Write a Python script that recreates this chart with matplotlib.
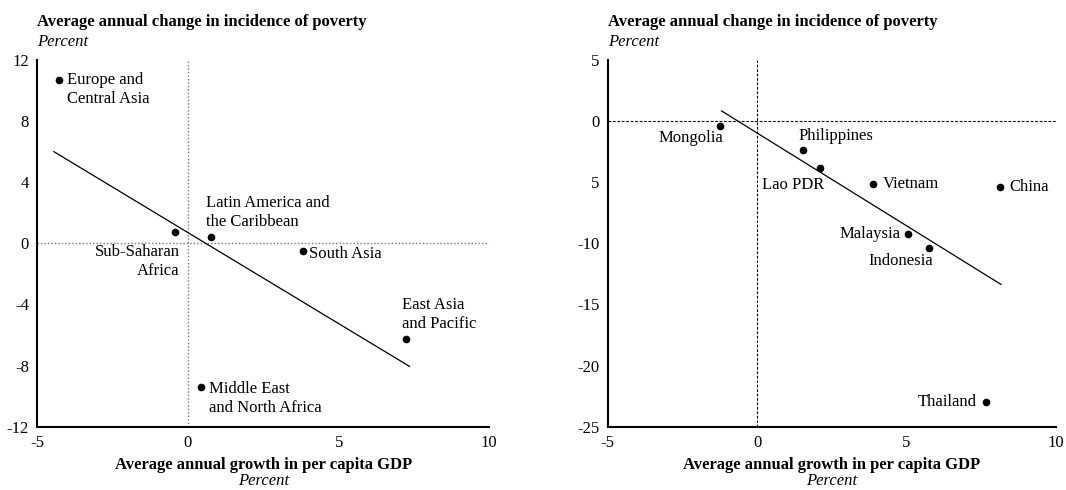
import matplotlib
matplotlib.use("Agg")
import matplotlib.pyplot as plt

plt.rcParams["font.family"] = ["Liberation Serif", "DejaVu Serif"]

# Regions: growth in per capita GDP vs change in poverty incidence
region_names = ["Europe and\nCentral Asia", "Sub-Saharan\nAfrica", "Latin America and\nthe Caribbean",
                "South Asia", "East Asia\nand Pacific", "Middle East\nand North Africa"]
region_growth = [-4.27, -0.44, 0.76, 3.81, 7.24, 0.42]
region_poverty = [10.69, 0.72, 0.44, -0.48, -6.24, -9.40]
region_fit_x = [-4.45, 7.35]
region_fit_y = [6.0, -8.05]

# East Asian countries
country_names = ["Mongolia", "Philippines", "Lao PDR", "Vietnam", "China",
                 "Malaysia", "Indonesia", "Thailand"]
country_growth = [-1.24, 1.52, 2.11, 3.89, 8.14, 5.06, 5.75, 7.66]
country_poverty = [-0.37, -2.36, -3.84, -5.12, -5.39, -9.21, -10.36, -23.01]
country_fit_x = [-1.19, 8.16]
country_fit_y = [0.83, -13.36]

left_yticks = [12, 8, 4, 0, -4, -8, -12]
left_yticklabels = ["12", "8", "4", "0", "-4", "-8", "-12"]
right_yticks = [5, 0, -5, -10, -15, -20, -25]
right_yticklabels = ["5", "0", "5", "-10", "-15", "-20", "-25"]
xticks = [-5, 0, 5, 10]
xticklabels = ["-5", "0", "5", "10"]

y_title = "Average annual change in incidence of poverty"
x_title = "Average annual growth in per capita GDP"

# label placement: (dx, dy) in pixels from the dot, horizontal alignment
region_label_pos = [(8, -10, "left"), (5, -29, "right"), (-5, 24, "left"),
                    (6.5, -3, "left"), (-4.5, 24.5, "left"), (8, -11.5, "left")]
country_label_pos = [(3.5, -12.5, "right"), (-4.5, 13.5, "left"), (4.5, -17, "right"),
                     (9.5, -0.5, "left"), (8.5, 0, "left"), (-7.5, 0, "right"),
                     (4.5, -13.5, "right"), (-9.5, 0, "right")]

PX = 0.72  # points per pixel at dpi 100
FS = 12

fig = plt.figure(figsize=(10.66, 4.9), dpi=100)
ax1 = fig.add_axes([0.035, 0.1292, 0.424, 0.7484])
ax2 = fig.add_axes([0.5701, 0.1292, 0.4205, 0.7484])


def draw_panel(ax, xs, ys, names, pos, fit_x, fit_y, ylim, yt, ytl, ref_style):
    ax.set_xlim(-5, 10)
    ax.set_ylim(*ylim)
    ax.axvline(0, **ref_style, zorder=1)
    ax.axhline(0, **ref_style, zorder=1)
    ax.plot(fit_x, fit_y, color="black", lw=0.9, zorder=2)
    ax.plot(xs, ys, "o", color="black", ms=4.5, zorder=3, clip_on=False)
    for x, y, name, (dx, dy, ha) in zip(xs, ys, names, pos):
        ax.annotate(name, (x, y), xytext=(dx * PX, dy * PX), textcoords="offset points",
                    ha=ha, va="center", multialignment=ha, fontsize=FS, linespacing=1.25)
    ax.set_xticks(xticks)
    ax.set_xticklabels(xticklabels)
    ax.set_yticks(yt)
    ax.set_yticklabels(ytl)
    ax.tick_params(length=0, labelsize=FS, pad=6)
    for s in ["top", "right"]:
        ax.spines[s].set_visible(False)
    for s in ["left", "bottom"]:
        ax.spines[s].set_linewidth(1.5)
    ax.annotate(y_title, (0, 1), xycoords="axes fraction", xytext=(0, 38 * PX),
                textcoords="offset points", ha="left", va="center",
                fontsize=FS, fontweight="bold")
    ax.annotate("Percent", (0, 1), xycoords="axes fraction", xytext=(0, 18 * PX),
                textcoords="offset points", ha="left", va="center",
                fontsize=FS, fontstyle="italic")
    ax.annotate(x_title, (0.5, 0), xycoords="axes fraction", xytext=(0, -38 * PX),
                textcoords="offset points", ha="center", va="center",
                fontsize=FS, fontweight="bold")
    ax.annotate("Percent", (0.5, 0), xycoords="axes fraction", xytext=(0, -54 * PX),
                textcoords="offset points", ha="center", va="center",
                fontsize=FS, fontstyle="italic", annotation_clip=False)


draw_panel(ax1, region_growth, region_poverty, region_names, region_label_pos,
           region_fit_x, region_fit_y, (-12, 12), left_yticks, left_yticklabels,
           dict(color="#777777", lw=1.0, linestyle=(0, (1, 1.5))))
draw_panel(ax2, country_growth, country_poverty, country_names, country_label_pos,
           country_fit_x, country_fit_y, (-25, 5), right_yticks, right_yticklabels,
           dict(color="black", lw=0.8, linestyle=(0, (2.5, 1.5))))

fig.savefig("out.png", dpi=100)
